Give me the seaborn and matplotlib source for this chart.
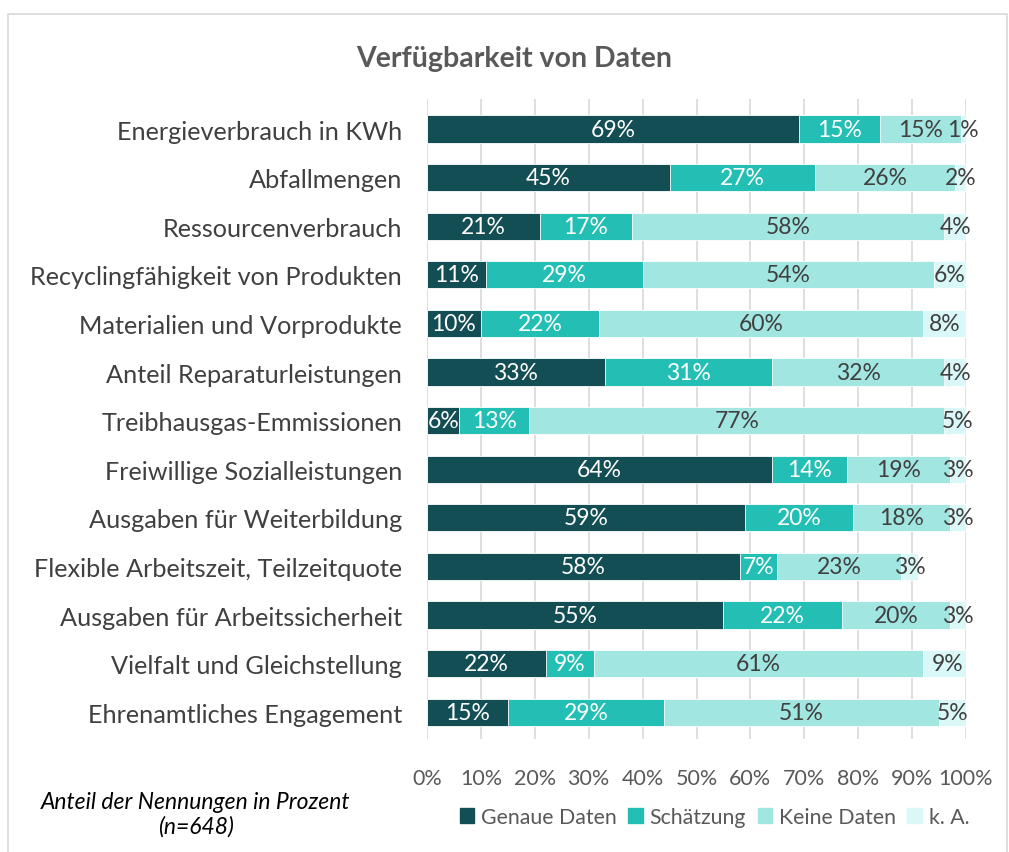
import numpy as np
import pandas as pd
import matplotlib
matplotlib.use("Agg")
import matplotlib.pyplot as plt
import seaborn as sns
from matplotlib.patches import Rectangle

# -----------------------------
# DATA
# -----------------------------
categories = [
    "Energieverbrauch in KWh",
    "Abfallmengen",
    "Ressourcenverbrauch",
    "Recyclingfähigkeit von Produkten",
    "Materialien und Vorprodukte",
    "Anteil Reparaturleistungen",
    "Treibhausgas-Emmissionen",
    "Freiwillige Sozialleistungen",
    "Ausgaben für Weiterbildung",
    "Flexible Arbeitszeit, Teilzeitquote",
    "Ausgaben für Arbeitssicherheit",
    "Vielfalt und Gleichstellung",
    "Ehrenamtliches Engagement",
]
genaue = [69, 45, 21, 11, 10, 33, 6, 64, 59, 58, 55, 22, 15]
schaetzung = [15, 27, 17, 29, 22, 31, 13, 14, 20, 7, 22, 9, 29]
keine = [15, 26, 58, 54, 60, 32, 77, 19, 18, 23, 20, 61, 51]
ka = [1, 2, 4, 6, 8, 4, 5, 3, 3, 3, 3, 9, 5]

series_names = ["Genaue Daten", "Schätzung", "Keine Daten", "k. A."]
colors = ["#134E55", "#23BFB5", "#A1E6E0", "#DAF8F8"]
label_colors = ["white", "white", "#404040", "#404040"]

df = pd.DataFrame({
    "Kategorie": categories,
    "Genaue Daten": genaue,
    "Schätzung": schaetzung,
    "Keine Daten": keine,
    "k. A.": ka,
})
cum = df[series_names].cumsum(axis=1)

# -----------------------------
# PLOT
# -----------------------------
sns.set_style("white")
plt.rcParams["font.family"] = ["Lato", "DejaVu Sans"]

fig = plt.figure(figsize=(10.09, 8.53), dpi=100)
ax = fig.add_axes([0.4232, 0.1325, 0.5342, 0.7503])

# stacked bars: draw cumulative totals from back to front
for i in reversed(range(len(series_names))):
    sns.barplot(x=cum[series_names[i]], y=df["Kategorie"], orient="h",
                color=colors[i], saturation=1, width=0.56, ax=ax,
                edgecolor="white", linewidth=0.6, zorder=2)

# segment labels
for i, name in enumerate(series_names):
    for j, v in enumerate(df[name]):
        xc = cum[name][j] - v / 2
        ax.text(xc, j, f"{v}%", ha="center", va="center",
                color=label_colors[i], fontsize=16.5, zorder=3)

ax.set_xlim(0, 100)
ax.set_ylim(12.55, -0.62)
ax.set_xticks(np.arange(0, 101, 10))
ax.set_xticklabels([f"{t}%" for t in range(0, 101, 10)])
ax.xaxis.grid(True, color="#D9D9D9", linewidth=1.2, zorder=0)
ax.set_axisbelow(True)
ax.tick_params(axis="x", length=0, pad=21, labelsize=15.5, labelcolor="#595959")
ax.tick_params(axis="y", length=0, pad=18, labelsize=18.2, labelcolor="#404040")
ax.set_xlabel("")
ax.set_ylabel("")
for s in ax.spines.values():
    s.set_visible(False)

fig.text(0.51, 0.931, "Verfügbarkeit von Daten", ha="center", va="center",
         fontsize=20.5, fontweight="bold", color="#595959")

fig.text(0.194, 0.045, "Anteil der Nennungen in Prozent\n(n=648)", ha="center",
         va="center", fontsize=16.5, fontstyle="italic", color="black",
         linespacing=1.2)

handles = [Rectangle((0, 0), 1, 1, color=c) for c in colors]
fig.legend(handles, series_names, loc="center", bbox_to_anchor=(0.708, 0.041),
           ncol=4, frameon=False, fontsize=15.3, handlelength=0.7, handleheight=0.7,
           handletextpad=0.3, columnspacing=0.55, labelcolor="#595959")

# outer frame
fig.patches.append(Rectangle((0.008, -0.01), 0.99, 0.992, transform=fig.transFigure,
                             fill=False, edgecolor="#D9D9D9", linewidth=1.2))

fig.savefig("out.png", dpi=100)
